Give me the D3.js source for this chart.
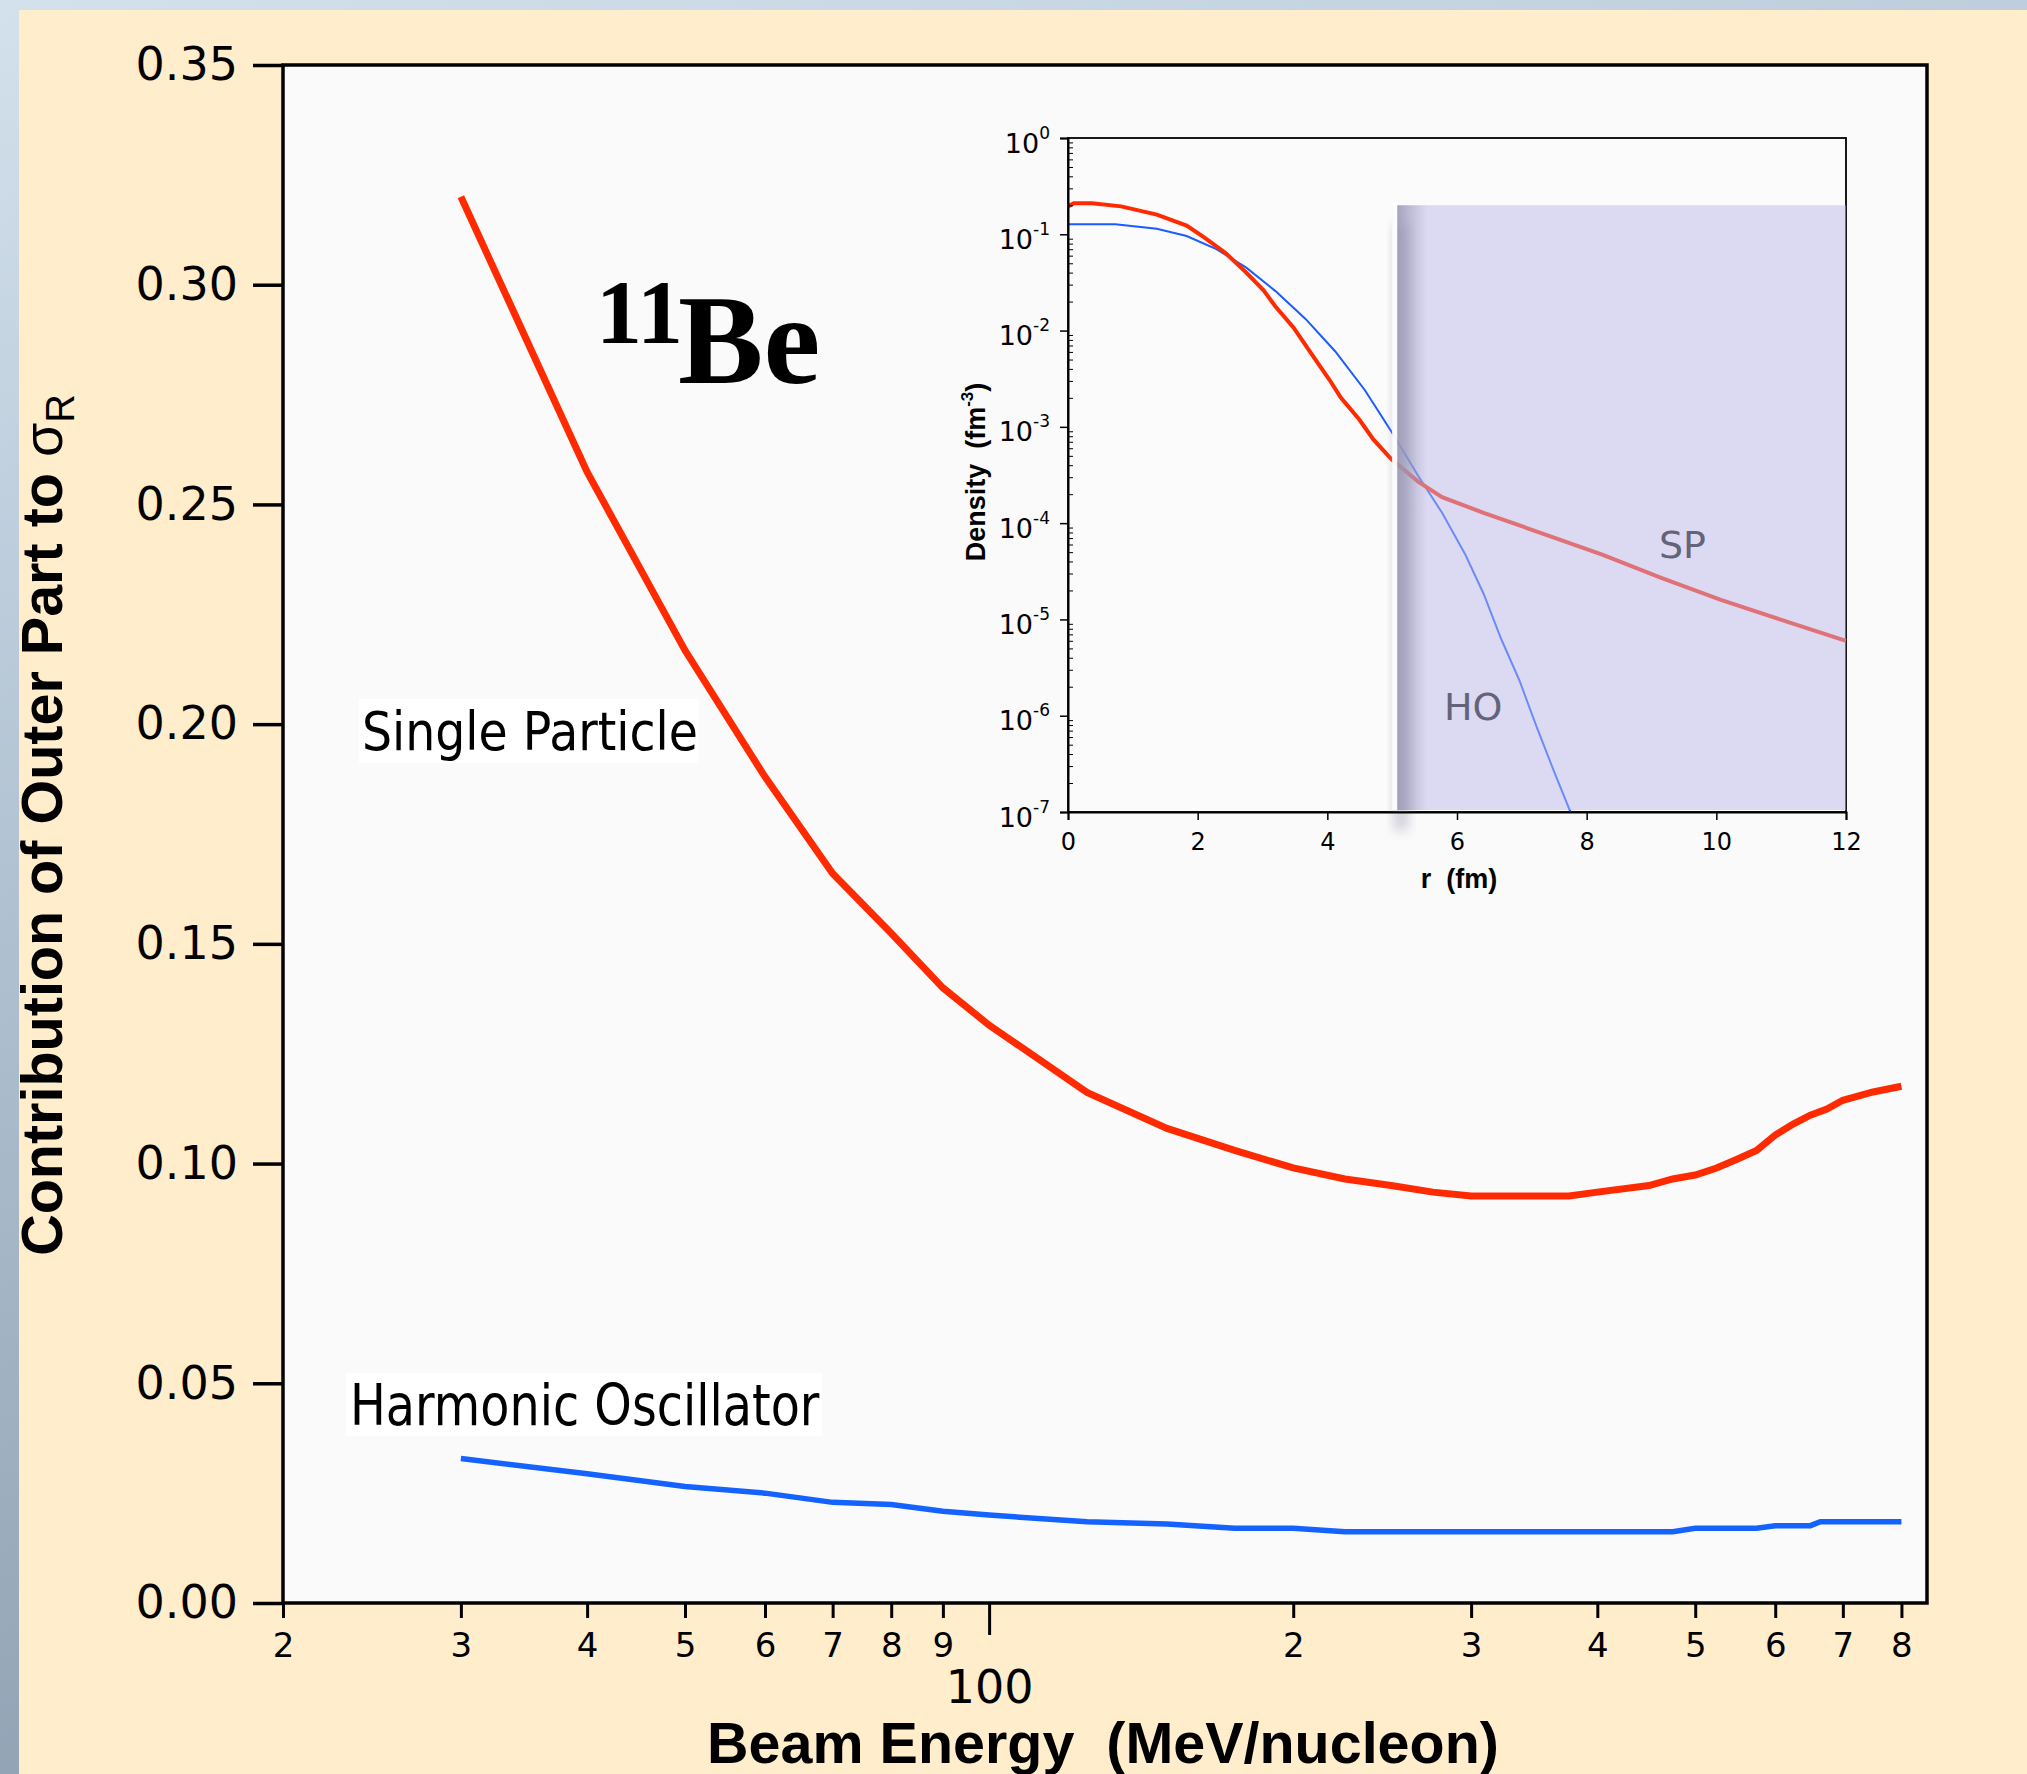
<!DOCTYPE html>
<html lang="en">
<head>
<meta charset="UTF-8">
<title>11Be - Contribution of Outer Part</title>
<script src="https://d3js.org/d3.v7.min.js"></script>
<style>
    body { margin: 0; }
    svg { display: block; }
    text { white-space: pre; }
    .num { font-family: "DejaVu Sans", sans-serif; }
    .bold { font-family: "Liberation Sans", Arial, sans-serif; font-weight: bold; }
</style>
</head>
<body>
<svg id="chart" width="2027" height="1774"></svg>
<script>
// main plot: beam energy (MeV/nucleon) vs contribution of outer part
const spEnergy = [30, 40, 50, 60, 70, 80, 90, 100, 125, 150, 175, 200, 225, 250, 275, 300, 350, 375, 400, 450, 475, 500, 525, 550, 575, 600, 625, 650, 675, 700, 750, 800];
const spContribution = [0.320, 0.2574, 0.2168, 0.188, 0.166, 0.1524, 0.140, 0.1315, 0.1162, 0.108, 0.103, 0.099, 0.0965, 0.095, 0.0935, 0.0926, 0.0926, 0.0926, 0.0935, 0.095, 0.0965, 0.0974, 0.099, 0.101, 0.103, 0.1065, 0.109, 0.111, 0.1124, 0.1144, 0.1163, 0.1176];
const hoEnergy = [30, 40, 50, 60, 70, 80, 90, 100, 125, 150, 175, 200, 225, 300, 400, 475, 500, 575, 600, 650, 665, 800];
const hoContribution = [0.0329, 0.0294, 0.0265, 0.025, 0.0229, 0.0224, 0.0209, 0.020, 0.0185, 0.018, 0.017, 0.017, 0.0162, 0.0162, 0.0162, 0.0162, 0.017, 0.017, 0.0176, 0.0176, 0.0185, 0.0185];

const yTicks = [0, 0.05, 0.10, 0.15, 0.20, 0.25, 0.30, 0.35];
const xMinorTicks = [20, 30, 40, 50, 60, 70, 80, 90, 200, 300, 400, 500, 600, 700, 800];
const xMajorTicks = [100];

// inset: density profiles
const spR = [0, 0.09, 0.37, 0.82, 1.37, 1.83, 2.1, 2.43, 2.75, 3.02, 3.2, 3.48, 3.75, 4.03, 4.21, 4.49, 4.71, 4.99, 5.4, 5.77, 6.41, 7.32, 8.24, 9.15, 10.07, 10.98, 12];
const spDensity = [0.195, 0.21, 0.21, 0.195, 0.16, 0.123, 0.093, 0.064, 0.040, 0.026, 0.0178, 0.0107, 0.0058, 0.0031, 0.0020, 0.0012, 7.4e-4, 4.6e-4, 2.7e-4, 1.86e-4, 1.28e-4, 7.8e-5, 4.7e-5, 2.7e-5, 1.6e-5, 1.0e-5, 6.0e-6];
const hoR = [0, 0.73, 1.37, 1.83, 2.29, 2.75, 3.2, 3.66, 4.12, 4.58, 4.99, 5.4, 5.77, 6.13, 6.41, 6.68, 6.96, 7.23, 7.51, 7.75];
const hoDensity = [0.127, 0.127, 0.114, 0.096, 0.070, 0.045, 0.0257, 0.0133, 0.0061, 0.0024, 8.9e-4, 3.1e-4, 1.28e-4, 4.7e-5, 1.85e-5, 6.3e-6, 2.35e-6, 7.6e-7, 2.5e-7, 1e-7];

const insetYExponents = [0, -1, -2, -3, -4, -5, -6, -7];
const insetXTicks = [0, 2, 4, 6, 8, 10, 12];
const shadeR = [5, 12];
const shadeDensity = [1e-7, 0.2];

const svg = d3.select("#chart");

// slide background
const defs = svg.append("defs");
const bg = defs.append("linearGradient").attr("id", "slidebg").attr("x1", 0).attr("y1", 0).attr("x2", 0.3).attr("y2", 1);
bg.append("stop").attr("offset", "0%").attr("stop-color", "#d3e1ec");
bg.append("stop").attr("offset", "50%").attr("stop-color", "#aebfcf");
bg.append("stop").attr("offset", "100%").attr("stop-color", "#8e9fb1");
const shadowGrad = defs.append("linearGradient").attr("id", "shadowgrad");
shadowGrad.append("stop").attr("offset", "0%").attr("stop-color", "#9491ad").attr("stop-opacity", 0.75);
shadowGrad.append("stop").attr("offset", "100%").attr("stop-color", "#9491ad").attr("stop-opacity", 0);
defs.append("filter").attr("id", "blur").attr("x", "-50%").attr("y", "-10%").attr("width", "200%").attr("height", "120%")
    .append("feGaussianBlur").attr("stdDeviation", 6);

svg.append("rect").attr("width", 2027).attr("height", 1774).attr("fill", "url(#slidebg)");
svg.append("rect").attr("x", 19).attr("y", 10).attr("width", 2008).attr("height", 1764).attr("fill", "#ffedcb");

// ---------- main chart ----------
const x = d3.scaleLog().domain([20, 848]).range([283, 1927]);
const y = d3.scaleLinear().domain([0, 0.35]).range([1603, 65]);

svg.append("rect")
    .attr("x", x.range()[0]).attr("y", y.range()[1])
    .attr("width", x.range()[1] - x.range()[0])
    .attr("height", y.range()[0] - y.range()[1])
    .attr("fill", "#fafafa");

// squeeze a text horizontally to a target width
function squeeze(sel, target) {
    const w = sel.node().getBBox().width;
    sel.attr("transform", `scale(${target / w},1)`);
}

const yAxis = svg.append("g")
    .attr("transform", `translate(${x.range()[0]},0)`)
    .call(d3.axisLeft(y).tickValues(yTicks).tickSize(30).tickPadding(15).tickFormat(d3.format(".2f")));
yAxis.select(".domain").remove();
yAxis.selectAll("line").attr("stroke", "#000").attr("stroke-width", 3.5);
yAxis.selectAll("text").attr("class", "num").attr("font-size", 46).attr("fill", "#000");

const xAxis = svg.append("g")
    .attr("transform", `translate(0,${y.range()[0]})`)
    .call(d3.axisBottom(x).tickValues(xMinorTicks).tickSize(15).tickPadding(15)
        .tickFormat(d => String(d < 100 ? d / 10 : d / 100)));
xAxis.select(".domain").remove();
xAxis.selectAll("line").attr("stroke", "#000").attr("stroke-width", 3);
xAxis.selectAll("text").attr("class", "num").attr("font-size", 34).attr("fill", "#000");

const xAxis100 = svg.append("g")
    .attr("transform", `translate(0,${y.range()[0]})`)
    .call(d3.axisBottom(x).tickValues(xMajorTicks).tickSize(32).tickPadding(35).tickFormat(d3.format("d")));
xAxis100.select(".domain").remove();
xAxis100.selectAll("line").attr("stroke", "#000").attr("stroke-width", 3);
xAxis100.selectAll("text").attr("class", "num").attr("font-size", 46).attr("fill", "#000");

// frame
svg.append("rect")
    .attr("x", x.range()[0]).attr("y", y.range()[1])
    .attr("width", x.range()[1] - x.range()[0])
    .attr("height", y.range()[0] - y.range()[1])
    .attr("fill", "none").attr("stroke", "#000").attr("stroke-width", 3.5);

// axis titles
const xt = svg.append("g").attr("transform", "translate(1103,1763)")
    .append("text").attr("class", "bold").attr("font-size", 58).attr("text-anchor", "middle")
    .text("Beam Energy  (MeV/nucleon)");
squeeze(xt, 792);

const yt = svg.append("g").attr("transform", "translate(62,825) rotate(-90)")
    .append("text").attr("class", "bold").attr("font-size", 58).attr("text-anchor", "middle");
yt.append("tspan").text("Contribution of Outer Part to ");
yt.append("tspan").attr("font-weight", "normal").attr("font-size", 56).text("σ");
yt.append("tspan").attr("font-weight", "normal").attr("font-size", 40).attr("dy", 12).text("R");
squeeze(yt, 862);

// curves
const mainLine = d3.line().x(d => x(d[0])).y(d => y(d[1]));
svg.append("path")
    .datum(d3.zip(spEnergy, spContribution))
    .attr("d", mainLine).attr("fill", "none").attr("stroke", "#ff2a00").attr("stroke-width", 7);
svg.append("path")
    .datum(d3.zip(hoEnergy, hoContribution))
    .attr("d", mainLine).attr("fill", "none").attr("stroke", "#1462ff").attr("stroke-width", 5.5);

// 11Be
const beLabel = svg.append("text").attr("font-family", "'Liberation Serif', 'Times New Roman', serif").attr("font-weight", "bold");
beLabel.append("tspan").attr("x", 596).attr("y", 343).attr("font-size", 92).text("11");
beLabel.append("tspan").attr("x", 678).attr("y", 383).attr("font-size", 128).text("Be");

// curve labels with white boxes
function boxedLabel(text, bx, by, bw, bh, tx, ty, size, width) {
    svg.append("rect").attr("x", bx).attr("y", by).attr("width", bw).attr("height", bh).attr("fill", "#fff");
    const t = svg.append("g").attr("transform", `translate(${tx},${ty})`)
        .append("text").attr("class", "num").attr("font-size", size).attr("fill", "#000").text(text);
    squeeze(t, width);
}
boxedLabel("Single Particle", 359, 699, 340, 64, 362, 750, 53, 336);
boxedLabel("Harmonic Oscillator", 346, 1373, 476, 63, 350, 1425, 57, 470);

// ---------- inset ----------
const rx = d3.scaleLinear().domain([0, 12]).range([1068, 1846]);
const ry = d3.scaleLog().domain([1e-7, 1]).range([812, 138]);

svg.append("rect")
    .attr("x", rx.range()[0]).attr("y", ry.range()[1])
    .attr("width", rx.range()[1] - rx.range()[0]).attr("height", ry.range()[0] - ry.range()[1])
    .attr("fill", "#fbfbfb").attr("stroke", "#000").attr("stroke-width", 1.8);

const insetLine = d3.line().x(d => rx(d[0])).y(d => ry(d[1]));
svg.append("path").datum(d3.zip(hoR, hoDensity))
    .attr("d", insetLine).attr("fill", "none").attr("stroke", "#1a5cff").attr("stroke-width", 2);
svg.append("path").datum(d3.zip(spR, spDensity))
    .attr("d", insetLine).attr("fill", "none").attr("stroke", "#ff2a00").attr("stroke-width", 4);

// shaded outer region
const sx0 = rx(shadeR[0]), sx1 = rx(shadeR[1]);
const sy0 = ry(shadeDensity[1]), sy1 = ry(shadeDensity[0]) - 2;
svg.append("rect").attr("x", sx0).attr("y", sy0).attr("width", sx1 - sx0).attr("height", sy1 - sy0)
    .attr("fill", "rgb(189,186,236)").attr("fill-opacity", 0.5);
svg.append("rect").attr("x", sx0 + 2).attr("y", sy0 + 20).attr("width", 14).attr("height", sy1 - sy0)
    .attr("fill", "#a9a7bd").attr("opacity", 0.55).attr("filter", "url(#blur)");
svg.append("rect").attr("x", sx0 + 5).attr("y", sy0).attr("width", 30).attr("height", sy1 - sy0)
    .attr("fill", "url(#shadowgrad)");
svg.append("rect").attr("x", sx0).attr("y", sy0 - 3).attr("width", 5).attr("height", sy1 - sy0 + 3)
    .attr("fill", "#fff").attr("opacity", 0.92);

// inset axes
const iy = svg.append("g").attr("transform", `translate(${rx.range()[0]},0)`)
    .call(d3.axisLeft(ry).tickValues(insetYExponents.map(e => Math.pow(10, e))).tickSize(8).tickFormat(""));
iy.selectAll("line").attr("stroke", "#000").attr("stroke-width", 1.5);
iy.select(".domain").attr("stroke", "#000").attr("stroke-width", 2);
iy.selectAll(".tick").each(function(d) {
    const t = d3.select(this).append("text").attr("class", "num").attr("x", -18).attr("y", 14)
        .attr("text-anchor", "end").attr("fill", "#000").attr("font-size", 27);
    t.append("tspan").text("10");
    t.append("tspan").attr("font-size", 17).attr("dy", -14).text(String(Math.round(Math.log10(d))));
});
const minorDens = [];
insetYExponents.slice(1).forEach(e => { for (let k = 2; k <= 9; k++) minorDens.push(k * Math.pow(10, e)); });
const iyMinor = svg.append("g").attr("transform", `translate(${rx.range()[0]},0)`)
    .call(d3.axisLeft(ry).tickValues(minorDens).tickSize(-5).tickFormat(""));
iyMinor.select(".domain").remove();
iyMinor.selectAll("line").attr("stroke", "#000").attr("stroke-width", 1);

const ix = svg.append("g").attr("transform", `translate(0,${ry.range()[0]})`)
    .call(d3.axisBottom(rx).tickValues(insetXTicks).tickSize(8).tickPadding(13).tickFormat(d3.format("d")));
ix.selectAll("line").attr("stroke", "#000").attr("stroke-width", 1.5);
ix.select(".domain").attr("stroke", "#000").attr("stroke-width", 2);
ix.selectAll("text").attr("class", "num").attr("font-size", 24).attr("fill", "#000");

svg.append("text").attr("class", "bold").attr("x", 1459).attr("y", 888).attr("font-size", 27)
    .attr("text-anchor", "middle").text("r  (fm)");
const dt = svg.append("text").attr("class", "bold").attr("font-size", 27).attr("text-anchor", "middle")
    .attr("transform", "translate(985,472) rotate(-90)");
dt.append("tspan").text("Density  (fm");
dt.append("tspan").attr("font-size", 17).attr("dy", -12).text("-3");
dt.append("tspan").attr("dy", 12).text(")");

svg.append("text").attr("class", "num").attr("x", 1659).attr("y", 558).attr("font-size", 38)
    .attr("fill", "#65637a").text("SP");
svg.append("text").attr("class", "num").attr("x", 1444).attr("y", 720).attr("font-size", 38)
    .attr("fill", "#65637a").text("HO");
</script>
</body>
</html>
